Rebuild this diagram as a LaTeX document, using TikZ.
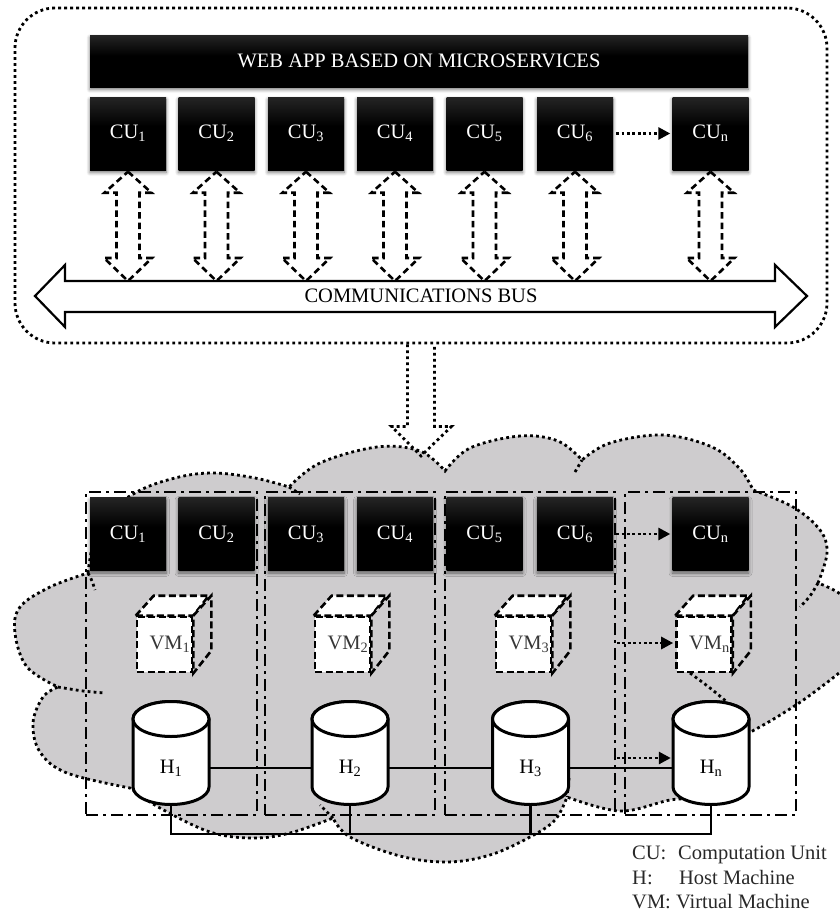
\documentclass[tikz,border=0pt]{standalone}
\usepackage{fontspec}
\setmainfont{Liberation Serif}
\usetikzlibrary{calc,arrows.meta,shadows.blur}
\definecolor{cloudgray}{RGB}{206,204,206}
\definecolor{vmtext}{RGB}{55,55,55}
\definecolor{legtext}{RGB}{40,40,40}
\pgfdeclareverticalshading{cushade}{100bp}{color(0bp)=(black); color(55bp)=(black); color(100bp)=(black!68)}
\tikzset{
  cubox/.style={shade, shading=cushade, minimum width=76pt, minimum height=73pt, inner sep=0pt, text=white,
    blur shadow={shadow blur steps=6, shadow xshift=0pt, shadow yshift=-2.5pt, shadow blur radius=3.5pt, shadow opacity=55}},
  webbar/.style={shade, shading=cushade, inner sep=0pt, text=white,
    blur shadow={shadow blur steps=6, shadow xshift=0pt, shadow yshift=-2.5pt, shadow blur radius=3.5pt, shadow opacity=55}},
  dotline/.style={line width=2.8pt, dash pattern=on 2.8pt off 3.2pt},
  dotarrow/.style={line width=2.8pt, dash pattern=on 2.8pt off 2.6pt, -{Triangle[length=12pt,width=12pt]}, shorten >=2pt},
  hollowdash/.style={line width=2.6pt, dash pattern=on 6.5pt off 4pt},
  dashdot/.style={draw, line width=2.5pt, dash pattern=on 12pt off 5pt on 3pt off 5pt},
  vmface/.style={draw, fill=white, line width=2.6pt, dash pattern=on 7pt off 3.5pt, minimum size=55pt, inner sep=0pt, text=vmtext},
  vmtop/.style={draw, fill=white, line width=2.6pt, dash pattern=on 7pt off 3.5pt, line join=miter},
  vmside/.style={draw, fill=cloudgray, line width=2.6pt, dash pattern=on 7pt off 3.5pt, line join=miter},
  cyl/.style={draw, fill=white, line width=3pt},
  hlabel/.style={minimum width=76pt, inner sep=0pt},
  link/.style={line width=2.2pt},
  busline/.style={draw, fill=white, line width=2.2pt, line join=miter},
  legend/.style={anchor=west, inner sep=0pt, text=legtext},
}
\newcommand{\vdbl}[2]{%
  \coordinate (ta) at (#1); \coordinate (tb) at (#2);
  \draw[hollowdash] (ta) -- ++(23.5,21) -- ++(-12,0) -- ($(tb)+(11.5,-23)$) -- ++(12.5,0) -- (tb)
    -- ++(-24,-23) -- ++(12.5,0) -- ($(ta)+(-11.5,21)$) -- ++(-12,0) -- cycle;}
\begin{document}
\begin{tikzpicture}[x=1pt,y=-1pt,font=\fontsize{20.5}{24}\selectfont]
\useasboundingbox (0,0) rectangle (840,913);
\clip (0,0) rectangle (840,913);

% ---------- top: application ----------
\node[draw, dotline, rounded corners=40pt, minimum width=812pt, minimum height=335pt] (app) at (421,175.5) {};
\node[webbar, minimum width=658pt, minimum height=52pt] (web) at (419,61) {WEB APP BASED ON MICROSERVICES};
\foreach \i/\x in {1/128,2/216.5,3/306,4/395,5/484.5,6/575,n/710.5}
  \node[cubox] (cu\i) at (\x,133.5) {CU\textsubscript{\i}};
\draw[dotarrow, shorten <=3pt] (cu6.east) -- (cun.west);

% communications bus
\coordinate (bustop) at (421,281);
\draw[busline] (35,296) -- (65,265) -- (65,281) -- (775,281) -- (775,265) -- (807,296)
  -- (775,327) -- (775,312) -- (65,312) -- (65,327) -- cycle;
\node (bus) at (421,296) {COMMUNICATIONS BUS};
\foreach \i in {1,2,3,4,5,6,n}
  \vdbl{$(cu\i.south)+(0,1.5)$}{cu\i.south |- bustop};

% ---------- cloud ----------
\filldraw[fill=cloudgray, dotline]
  plot[smooth,tension=0.6] coordinates {(88,573) (100,522) (135,493) (175,478) (213,473) (255,478) (289,487)}
  -- plot[smooth,tension=0.6] coordinates {(289,487) (320,463) (377,447) (420,451) (445,471)}
  -- plot[smooth,tension=0.6] coordinates {(445,471) (470,448) (520,436) (558,441) (582,460)}
  -- plot[smooth,tension=0.6] coordinates {(582,460) (610,443) (663,435) (712,447) (740,469) (753,490)}
  -- plot[smooth,tension=0.6] coordinates {(753,490) (793,507) (820,530) (827,553) (818,583)}
  -- plot[smooth,tension=0.6] coordinates {(818,583) (845,598) (860,630) (852,660) (813,693) (777,717) (745,735)}
  -- plot[smooth,tension=0.6] coordinates {(745,735) (738,772) (705,796) (670,800) (620,811) (567,797)}
  -- plot[smooth,tension=0.6] coordinates {(567,797) (555,820) (530,837) (490,855) (447,862) (400,856) (350,837) (333,818)}
  -- plot[smooth,tension=0.6] coordinates {(333,818) (290,833) (253,838) (210,832) (160,808) (130,788)}
  -- plot[smooth,tension=0.6] coordinates {(130,788) (67,773) (40,752) (33,723) (43,697) (58,687)}
  -- plot[smooth,tension=0.6] coordinates {(58,687) (27,667) (15,633) (20,607) (50,587) (88,573)}
  -- cycle;
\draw[dotline] plot[smooth] coordinates {(88,573) (92,581) (95,590)};
\draw[dotline] plot[smooth] coordinates {(58,687) (83,691) (105,693)};
\draw[dotline] (289,487) -- (300,494);
\draw[dotline] (575,472) -- (582,460);
\draw[dotline] plot[smooth] coordinates {(818,583) (810,596) (800,607)};
\draw[dotline] plot[smooth] coordinates {(690,673) (710,688) (727,702)};
\draw[dotline] (569,778) -- (567,797);
\draw[dotline] (333,818) -- (320,805);

% deployment arrow
\coordinate (dtip) at (421,456);
\draw[dotline] ($(app.south)+(-13.5,0)$) -- ++(0,82) -- ++(-16,0) -- (dtip)
  -- ($(app.south)+(30.5,82)$) -- ++(-17,0) -- ++(0,-82);

% ---------- groups ----------
\node[dashdot, minimum width=171pt, minimum height=323pt] (g1) at (171.5,653.5) {};
\node[dashdot, minimum width=170pt, minimum height=323pt] (g2) at (350,653.5) {};
\node[dashdot, minimum width=170pt, minimum height=323pt] (g3) at (530,653.5) {};
\node[dashdot, minimum width=171pt, minimum height=323pt] (g4) at (710.5,653.5) {};

% lower computation units
\foreach \i/\x in {1/128,2/216.5,3/306,4/395,5/484.5,6/575,n/710.5}
  \node[cubox] (lcu\i) at (\x,534) {CU\textsubscript{\i}};
\draw[dotarrow, shorten <=3pt] (lcu6.east) -- (lcun.west);

% virtual machines
\foreach \i/\x in {1/164.5,2/342.5,3/523.5,n/704}{
  \node[vmface] (vm\i) at (\x,644.5) {\hspace*{11pt}VM\textsubscript{\i}};
  \draw[vmtop] (vm\i.north west) -- ++(18,-20) -- ++(55,0) -- (vm\i.north east) -- cycle;
  \draw[vmside] (vm\i.north east) -- ++(18,-20) -- ++(0,55) -- (vm\i.south east) -- cycle;
}
\coordinate (vmsrc) at (617,643);
\draw[dotarrow] (vmsrc) -- (vmsrc -| vmn.west);

% host machines
\foreach \i/\x in {1/171,2/350,3/530.5,n/711}{
  \coordinate (hc\i) at (\x,768);
  \filldraw[cyl] ($(hc\i)+(-38,-49)$) -- ($(hc\i)+(-38,19)$)
    arc[start angle=180,end angle=360,x radius=38pt,y radius=17.5pt]
    -- ($(hc\i)+(38,-49)$)
    arc[start angle=0,end angle=180,x radius=38pt,y radius=17.5pt] -- cycle;
  \draw[cyl] ($(hc\i)+(0,-49)$) ellipse[x radius=38pt,y radius=17.5pt];
  \node[hlabel] (h\i) at (hc\i) {H\textsubscript{\i}};
}
\draw[link] (h1.east) -- (h2.west);
\draw[link] (h2.east) -- (h3.west);
\draw[link] (h3.east) -- (hn.west);
\coordinate (hsrc) at (617,758);
\draw[dotarrow] (hsrc) -- (hsrc -| hn.west);
\draw[link] ($(h1)+(0,36.5)$) -- ($(h1)+(0,66)$) -| ($(hn)+(0,36.5)$);
\draw[link] ($(h2)+(0,36.5)$) -- ($(h2)+(0,66)$);
\draw[link] ($(h3)+(0,36.5)$) -- ($(h3)+(0,66)$);

% legend
\node[legend] (l1) at (632,855) {\makebox[46pt][l]{CU:}Computation Unit};
\node[legend] (l2) at (632,878) {\makebox[47pt][l]{H:}Host Machine};
\node[legend] (l3) at (632,902) {VM: Virtual Machine};
\end{tikzpicture}
\end{document}
